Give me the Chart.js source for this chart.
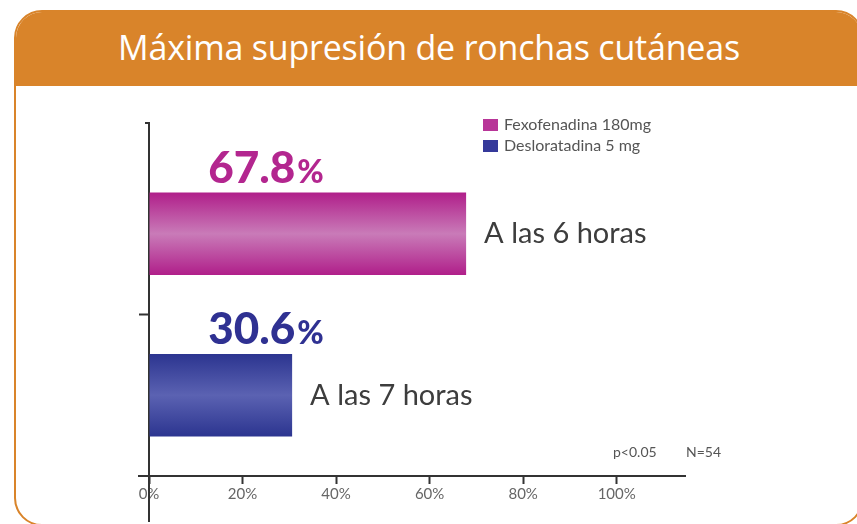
<!DOCTYPE html>
<html>
<head>
<meta charset="utf-8">
<script src="https://cdn.jsdelivr.net/npm/chart.js@4/dist/chart.umd.min.js"></script>
<style>
  html, body { margin: 0; padding: 0; background: #ffffff; width: 857px; height: 524px; overflow: hidden; }
  #card { position: absolute; left: 14px; top: 10px; width: 850px; height: 516px; border: 2px solid #d9842a; border-radius: 28px; box-sizing: border-box; overflow: hidden; background: #ffffff; }
  #header { position: absolute; left: 0; top: 0; right: 0; height: 74px; background: #d9842a; color: #fff; font-family: "Open Sans", sans-serif; font-size: 34px; text-align: center; line-height: 74px; letter-spacing: -0.2px; }
  #header span { position: relative; left: -10px; top: -2px; }
  #wrap { position: absolute; left: 0; top: 0; width: 857px; height: 524px; }
</style>
</head>
<body>
<div id="card"><div id="header"><span>Máxima supresión de ronchas cutáneas</span></div></div>
<div id="wrap"><canvas id="c" width="857" height="524"></canvas></div>
<script>
// ---- data ----
const categories = ['A las 6 horas', 'A las 7 horas'];
const seriesNames = ['Fexofenadina 180mg', 'Desloratadina 5 mg'];
const fexofenadina = [67.8, null];
const desloratadina = [null, 30.6];
const xTickValues = [0, 20, 40, 60, 80, 100];
const notes = ['p<0.05', 'N=54'];

const colors = {
  fexo: { edge: '#b01f8a', mid: '#c97bb8', text: '#b3268f' },
  deslo: { edge: '#2c3590', mid: '#5b62b2', text: '#2f3192' }
};

function barGradient(ctx, c) {
  const chart = ctx.chart;
  const area = chart.chartArea;
  if (!area || !chart.scales.y) return c.edge;
  const y = chart.scales.y.getPixelForValue(ctx.dataIndex);
  const half = 41;
  const g = chart.ctx.createLinearGradient(0, y - half, 0, y + half);
  g.addColorStop(0, c.edge);
  g.addColorStop(0.5, c.mid);
  g.addColorStop(1, c.edge);
  return g;
}

const annotations = {
  id: 'annotations',
  afterDraw(chart) {
    const ctx = chart.ctx;
    const area = chart.chartArea;
    const xs = chart.scales.x, ys = chart.scales.y;
    ctx.save();
    // axis extensions
    ctx.strokeStyle = '#333';
    ctx.lineWidth = 2;
    ctx.beginPath();
    ctx.moveTo(145, 123); ctx.lineTo(area.left, 123); ctx.lineTo(area.left, area.top);
    ctx.moveTo(area.left, area.bottom); ctx.lineTo(area.left, 522);
    ctx.moveTo(138, area.bottom); ctx.lineTo(area.left, area.bottom);
    const mid = (ys.getPixelForValue(0) + ys.getPixelForValue(1)) / 2;
    ctx.moveTo(139, mid); ctx.lineTo(area.left, mid);
    ctx.stroke();

    const cols = [colors.fexo, colors.deslo];
    chart.data.datasets.forEach((ds, di) => {
      const meta = chart.getDatasetMeta(di);
      meta.data.forEach((bar, i) => {
        const v = ds.data[i];
        if (v === null || v === undefined) return;
        const top = bar.y - bar.height / 2;
        // value label
        const num = v.toFixed(1);
        ctx.font = '900 44px Lato, sans-serif';
        const w1 = ctx.measureText(num).width;
        ctx.font = '900 32px Lato, sans-serif';
        const w2 = ctx.measureText('%').width;
        const cx = xs.getPixelForValue(25);
        let x0 = cx - (w1 + w2 + 2) / 2;
        ctx.fillStyle = cols[di].text;
        ctx.textBaseline = 'alphabetic';
        ctx.textAlign = 'left';
        ctx.font = '900 44px Lato, sans-serif';
        ctx.fillText(num, x0, top - 10);
        ctx.font = '900 32px Lato, sans-serif';
        ctx.fillText('%', x0 + w1 + 2, top - 10);
        // category label
        ctx.font = '29px Lato, sans-serif';
        ctx.fillStyle = '#3d3d3d';
        ctx.textBaseline = 'middle';
        ctx.fillText(chart.data.labels[i], bar.x + 18, bar.y);
      });
    });

    // legend
    ctx.font = '16px Lato, sans-serif';
    ctx.textBaseline = 'middle';
    chart.data.datasets.forEach((ds, di) => {
      const y = 125 + di * 21;
      ctx.fillStyle = di === 0 ? '#b83598' : '#35399a';
      ctx.fillRect(483, y - 6, 15, 12);
      ctx.fillStyle = '#555';
      ctx.fillText(ds.label, 504, y);
    });

    // notes
    ctx.font = '14px Lato, sans-serif';
    ctx.fillStyle = '#555';
    ctx.fillText(notes[0], 613, 452);
    ctx.fillText(notes[1], 686, 452);
    ctx.restore();
  }
};

new Chart(document.getElementById('c'), {
  type: 'bar',
  data: {
    labels: categories,
    datasets: [
      { label: seriesNames[0], data: fexofenadina, backgroundColor: (c) => barGradient(c, colors.fexo), borderWidth: 0 },
      { label: seriesNames[1], data: desloratadina, backgroundColor: (c) => barGradient(c, colors.deslo), borderWidth: 0 }
    ]
  },
  options: {
    indexAxis: 'y',
    responsive: false,
    animation: false,
    devicePixelRatio: 1,
    layout: { padding: { left: 149, right: 172, top: 153, bottom: 20 } },
    datasets: { bar: { barPercentage: 0.51, categoryPercentage: 1 } },
    plugins: { legend: { display: false }, tooltip: { enabled: false } },
    scales: {
      x: {
        stacked: true,
        min: 0,
        max: 114.6,
        afterBuildTicks: (axis) => { axis.ticks = xTickValues.map(v => ({ value: v })); },
        ticks: { callback: (v) => v + '%', color: '#666', font: { family: 'Lato, sans-serif', size: 15 }, padding: 1, maxRotation: 0 },
        grid: { drawOnChartArea: false, tickLength: 8, tickColor: '#333', tickWidth: 2 },
        border: { color: '#333', width: 2 }
      },
      y: {
        stacked: true,
        ticks: { display: false },
        grid: { display: false, drawTicks: false },
        border: { color: '#333', width: 2 }
      }
    }
  },
  plugins: [annotations]
});
</script>
</body>
</html>
